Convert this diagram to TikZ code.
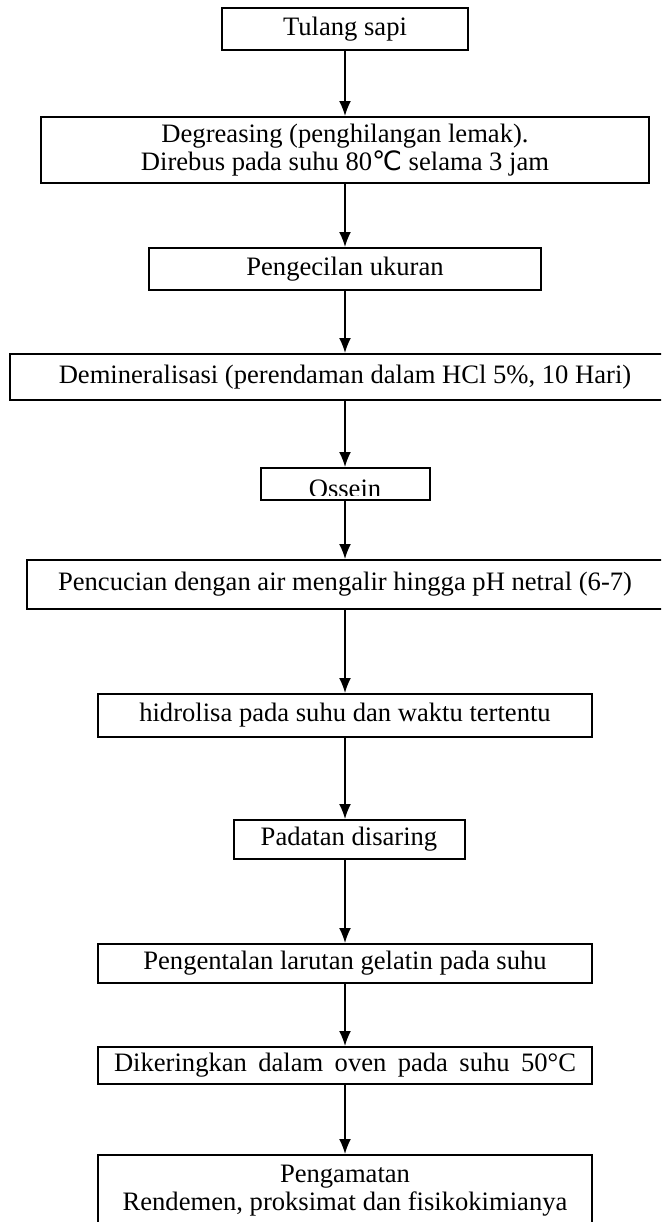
\documentclass[tikz,border=0pt]{standalone}
\usepackage{fontspec}
\setmainfont{Liberation Serif}
\newfontfamily\symfont{DejaVu Sans}
\usetikzlibrary{arrows.meta}

\begin{document}
\begin{tikzpicture}[
        x=0.5pt, y=-0.5pt,
        stepbox/.style={
        draw,
        line width=1pt,
        inner sep=0pt,
        align=center,
        font=\fontsize{13.3}{14}\selectfont
      },
      flow/.style={-{Latex[length=7.5pt,width=6pt]}, line width=0.8pt}
    ]
    \useasboundingbox (0,0) rectangle (661,1222);
    \clip (0,0) rectangle (661,1222);

    \node[stepbox, minimum width=123pt, minimum height=21pt] (tulang) at (345,29) {Tulang sapi};
    \node[stepbox, minimum width=304pt, minimum height=33pt] (degreasing) at (345,150)
      {Degreasing (penghilangan lemak).\\Direbus pada suhu 80{\symfont ℃} selama 3 jam};
    \node[stepbox, minimum width=196pt, minimum height=21pt] (kecil) at (345,269) {Pengecilan ukuran};
    \node[stepbox, minimum width=335pt, minimum height=23pt] (demin) at (345,377)
      {Demineralisasi (perendaman dalam HCl 5\%, 10 Hari)};
    \node[stepbox, minimum width=84.5pt, minimum height=16pt] (ossein) at (345,484) {};
    \node[stepbox, minimum width=318pt, minimum height=24.5pt] (cuci) at (345,584.5)
      {Pencucian dengan air mengalir hingga pH netral (6-7)};
    \node[stepbox, minimum width=247pt, minimum height=21.5pt] (hidro) at (345,715.5)
      {hidrolisa pada suhu dan waktu tertentu};
    \node[stepbox, minimum width=115.5pt, minimum height=19.5pt] (saring) at (349,839.5) {Padatan disaring};
    \node[stepbox, minimum width=247pt, minimum height=19.5pt] (kental) at (345,963.5)
      {Pengentalan larutan gelatin pada suhu};
    \node[stepbox, minimum width=247pt, minimum height=18.5pt] (kering) at (345,1065.5)
      {\makebox[231pt][s]{Dikeringkan dalam oven pada suhu 50°C}};
    \node[stepbox, minimum width=247pt, minimum height=35.5pt] (amat) at (345,1190.5)
      {Pengamatan\\Rendemen, proksimat dan fisikokimianya};

    % label of the ossein box is cut at its lower edge
    \begin{scope}
      \clip (ossein.north west) rectangle ([yshift=3pt]ossein.south east);
      \node[font=\fontsize{13.3}{14}\selectfont, anchor=base] (osseintext)
        at ([yshift=2pt]ossein.south) {Ossein};
    \end{scope}

    \draw[flow] (tulang) -- (degreasing);
    \draw[flow] (degreasing) -- (kecil);
    \draw[flow] (kecil) -- (demin);
    \draw[flow] (demin) -- (ossein);
    \draw[flow] (ossein) -- (cuci);
    \draw[flow] (cuci) -- (hidro);
    \draw[flow] (hidro) -- (saring.north -| hidro);
    \draw[flow] (saring.south -| hidro) -- (kental);
    \draw[flow] (kental) -- (kering);
    \draw[flow] (kering) -- (amat);

  \end{tikzpicture}
\end{document}
